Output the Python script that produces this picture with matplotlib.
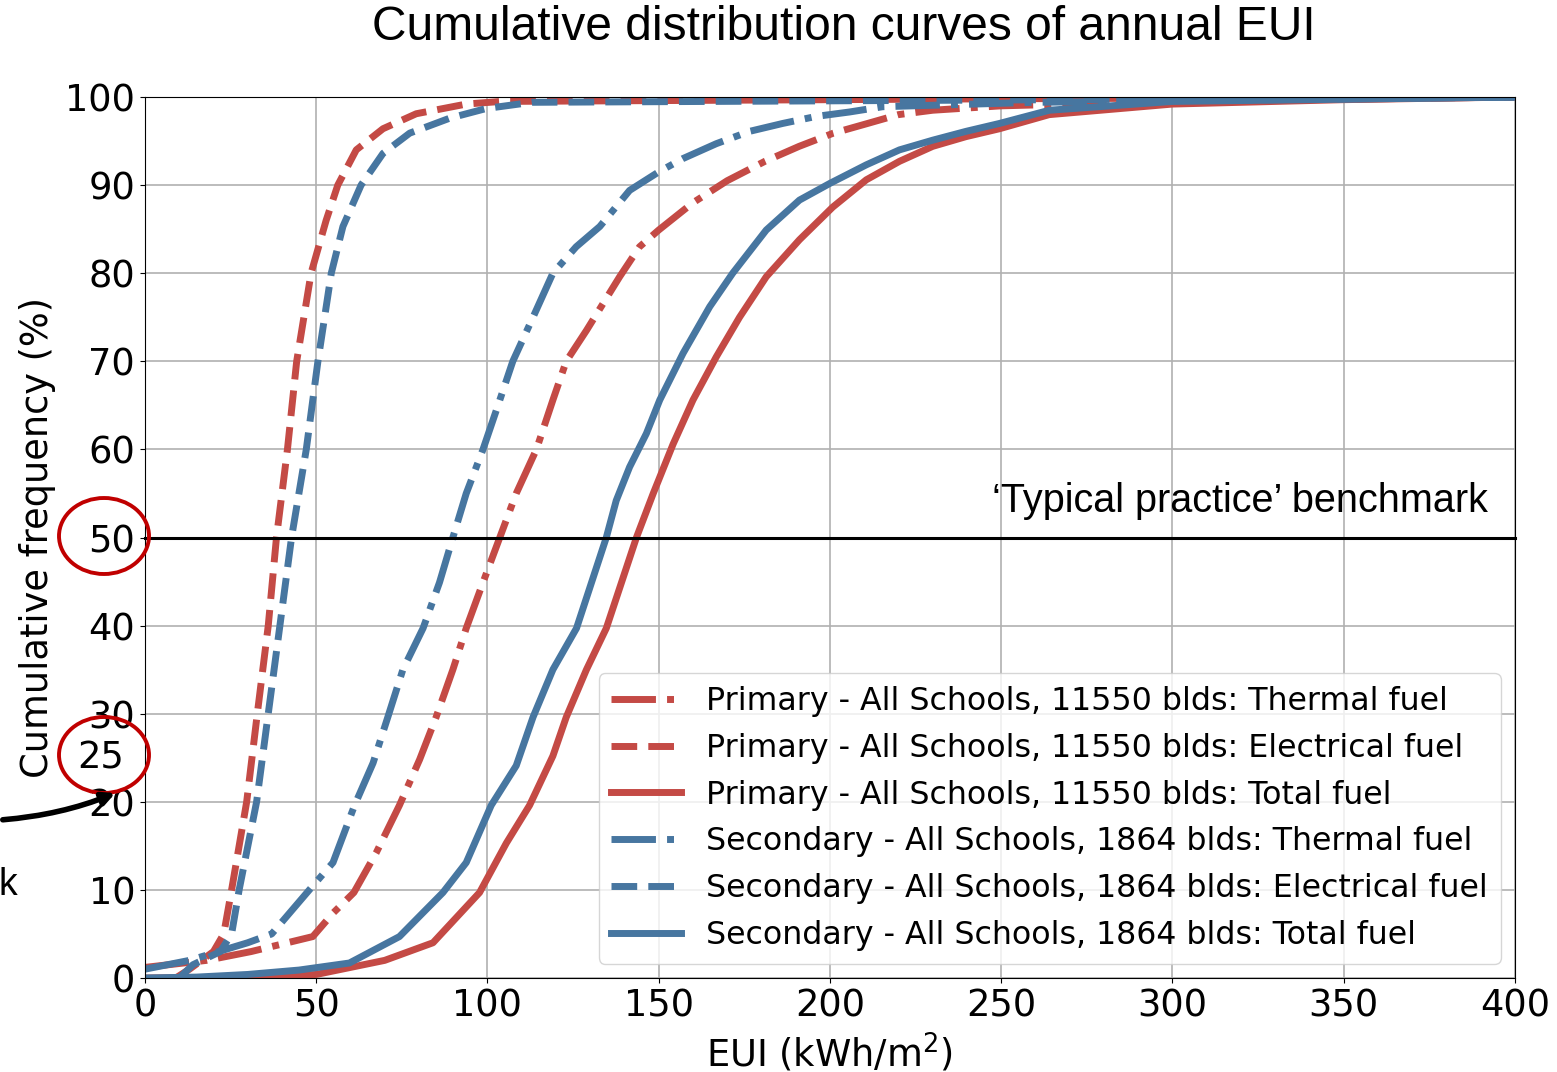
import numpy as np
import matplotlib
matplotlib.use('Agg')
import matplotlib.pyplot as plt
from matplotlib.patches import Ellipse, FancyArrowPatch

# EUI (kWh/m2) vs cumulative frequency (%)
prim_thermal_eui = [0, 18, 31, 49, 55, 61, 67.5, 74.3, 80.2, 85, 89.9, 93.8, 98.7, 103.6, 108.4, 114.3,
                    119.1, 123, 128.9, 138.6, 144.4, 150, 160, 170, 181, 191, 201, 211, 220, 230, 250, 300, 400]
prim_thermal_pct = [1.2, 2, 3, 4.7, 7.4, 9.7, 14.2, 19.6, 24.8, 29.6, 35, 39.7, 44.9, 50, 55, 60,
                    65.6, 70, 73.5, 79.6, 83, 84.9, 88, 90.5, 92.7, 94.4, 95.9, 97, 98, 98.5, 99, 99.5, 100]

prim_elec_eui = [9, 13, 20, 23, 25.3, 29.7, 32.8, 36, 38.4, 41.6, 44.3, 48.5, 52.9, 56.3, 61.7, 69.5, 79.2,
                 93.8, 104, 250, 400]
prim_elec_pct = [0, 1, 3, 5, 10, 20, 30, 40, 50, 60, 70, 80, 86, 90, 94, 96.4, 98.1,
                 99.2, 99.5, 99.8, 100]

prim_total_eui = [0, 30, 50, 70, 84.1, 97.7, 105.5, 112.3, 119.1, 123, 128.9, 134.7, 143.5, 148.4, 154.2,
                  160, 166.8, 173.6, 181.4, 191.1, 200.8, 210.6, 220.3, 230, 239.7, 249.5, 264, 300, 350, 400]
prim_total_pct = [0, 0.1, 0.4, 2, 4, 9.7, 15.3, 19.6, 25.2, 29.6, 35, 39.7, 50, 55, 60.6,
                  65.6, 70.5, 75, 79.6, 83.8, 87.5, 90.6, 92.7, 94.4, 95.5, 96.4, 98, 99.2, 99.7, 100]

sec_thermal_eui = [0, 13, 30, 37, 48, 54.9, 61.2, 66.6, 70.9, 75.3, 81.2, 86, 89.9, 93.8, 98.7, 103.6,
                   107.4, 113.3, 119.1, 125.9, 132.8, 141.5, 150, 157, 166.8, 176.5, 186.2, 196, 205.7,
                   215.4, 260, 400]
sec_thermal_pct = [1.0, 2, 4, 5, 10, 13.1, 19.6, 24.4, 29.6, 35, 39.7, 44.9, 50, 55, 60, 65.6,
                   70, 75, 80, 83, 85.3, 89.4, 91.5, 93, 94.7, 96.1, 97, 97.8, 98.3,
                   98.9, 99.4, 100]

sec_elec_eui = [10, 14, 22, 25.3, 27.5, 32.6, 36, 39.4, 42.8, 47.1, 50.5, 54.4, 57.8, 63.1, 69.5, 77.3,
                89, 99.7, 113, 270, 400]
sec_elec_pct = [0, 1.5, 3, 5, 10, 20, 30, 40, 50, 60, 70, 80, 85.3, 90, 93.6, 95.9,
                97.6, 98.7, 99.4, 99.7, 100]

sec_total_eui = [0, 15, 30, 45, 59.7, 74.3, 87, 93.8, 101.1, 108.4, 113.3, 119.1, 126, 134.7, 137.6,
                 141.5, 146.4, 150.3, 157.1, 164.9, 171.6, 181.4, 191.1, 200, 210.6, 220.3, 230, 239.7,
                 249.5, 264.1, 300, 400]
sec_total_pct = [0, 0.1, 0.4, 0.9, 1.7, 4.7, 9.7, 13.1, 19.6, 24.1, 29.6, 35, 39.7, 50, 54.2,
                 58, 61.8, 65.6, 70.9, 76.2, 80, 84.9, 88.3, 90.2, 92.3, 94, 95.1, 96.1,
                 97, 98.5, 99.5, 100]

red = '#C44A45'
blue = '#4776A0'

fig = plt.figure(figsize=(15.57, 10.72), dpi=100)
ax = fig.add_axes([0.0931, 0.0877, 0.8799, 0.8218])

lw = 5
ax.plot(prim_thermal_eui, prim_thermal_pct, color=red, ls='-.', lw=lw,
        label='Primary - All Schools, 11550 blds: Thermal fuel')
ax.plot(prim_elec_eui, prim_elec_pct, color=red, ls='--', lw=lw,
        label='Primary - All Schools, 11550 blds: Electrical fuel')
ax.plot(prim_total_eui, prim_total_pct, color=red, ls='-', lw=lw,
        label='Primary - All Schools, 11550 blds: Total fuel')
ax.plot(sec_thermal_eui, sec_thermal_pct, color=blue, ls='-.', lw=lw,
        label='Secondary - All Schools, 1864 blds: Thermal fuel')
ax.plot(sec_elec_eui, sec_elec_pct, color=blue, ls='--', lw=lw,
        label='Secondary - All Schools, 1864 blds: Electrical fuel')
ax.plot(sec_total_eui, sec_total_pct, color=blue, ls='-', lw=lw,
        label='Secondary - All Schools, 1864 blds: Total fuel')

# benchmark line
ax.axhline(50, color='black', lw=2.2, clip_on=False)
ax.text(392, 52.0, '\u2018Typical practice\u2019 benchmark', ha='right', va='bottom',
        fontsize=28.5, family='Liberation Sans')

ax.set_xlim(0, 400)
ax.set_ylim(0, 100)
ax.set_xticks(np.arange(0, 401, 50))
ax.set_yticks(np.arange(0, 101, 10))
ax.tick_params(labelsize=26.5)
ax.grid(True, color='#b0b0b0', lw=1.2)
ax.set_xlabel('EUI (kWh/m$^2$)', fontsize=26.5, labelpad=5)
ax.set_ylabel('Cumulative frequency (%)', fontsize=26.5, labelpad=7)

ax.legend(loc='lower right', fontsize=22.8, handlelength=2.2, borderaxespad=0.45)

fig.text(844 / 1557, 1 - 28 / 1072, 'Cumulative distribution curves of annual EUI',
         ha='center', va='center', fontsize=34.5, family='Liberation Sans')

# overlay annotations
ring = '#C00000'
for cy in (536, 755):
    fig.patches.append(Ellipse((104 / 1557, 1 - cy / 1072), 90 / 1557, 76 / 1072,
                               fill=False, ec=ring, lw=2.8, transform=fig.transFigure))
fig.text(101 / 1557, 1 - 758 / 1072, '25', ha='center', va='center', fontsize=26.5)
fig.patches.append(FancyArrowPatch((0 / 1557, 1 - 820 / 1072), (118 / 1557, 1 - 792 / 1072),
                                   connectionstyle='arc3,rad=0.08', arrowstyle='-|>',
                                   mutation_scale=18, lw=4, color='black',
                                   transform=fig.transFigure))
fig.text(-2 / 1557, 1 - 885 / 1072, 'k', ha='left', va='center', fontsize=27,
         family='Liberation Sans')

fig.savefig('out.png', dpi=100)
